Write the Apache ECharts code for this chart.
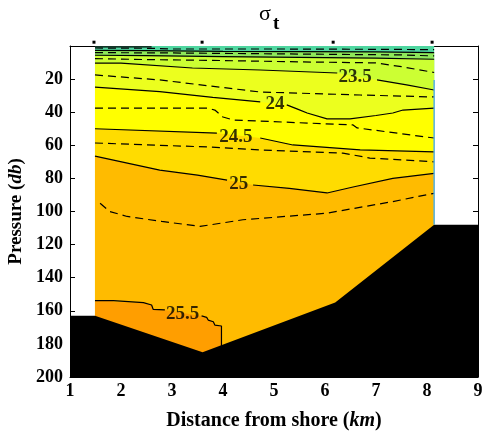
<!DOCTYPE html>
<html><head><meta charset="utf-8">
<script src="https://cdn.jsdelivr.net/npm/echarts@6/dist/echarts.min.js"></script>
<style>html,body{margin:0;padding:0;background:#fff}#c{width:483px;height:435px}</style>
</head><body><div id="c"></div>
<script>
// ---- data (distance km, pressure db) ----
const kmRange = [1, 9];
const pRange = [0, 200];
const stations = [1.47, 3.59, 6.16, 8.1];
const stationP = -2.3;
const sectionEdges = [1.49, 8.14];
const bathymetry = [[1,163],[1.49,163],[3.6,185],[6.2,155],[8.14,108],[9,108]];

const c22    = [[1.49,0.5],[2.6,0.5]];
const c22_25 = [[1.49,1.2],[2.6,1.4],[3,1.8],[5,1.8],[7,2],[8.14,2.2]];
const c22_5  = [[1.49,2.6],[2.5,2.8],[4,3.2],[5.5,3.4],[7,3.6],[8.14,4]];
const c22_75 = [[1.49,4],[3,4.2],[4.5,4.6],[6,5],[7.5,5.4],[8.14,6]];
const c23    = [[1.49,5.6],[2.5,5.8],[4,6.4],[5.5,6.9],[7,7.3],[8.14,8]];
const c23_25 = [[1.49,7.6],[2.5,8.2],[4,8.8],[5.5,9.6],[7,10.2],[7.5,12.5],[8.14,16]];
const c23_5L = [[1.49,10.3],[2,10.3],[3.4,13.3],[4.73,14.5],[6.24,16.3]];
const c23_5R = [[7.02,20.5],[7.6,23.5],[8.14,26.6]];
const c23_75 = [[1.49,17.5],[2.76,20.5],[4.73,27.8],[6.69,29.6],[8.14,30.8]];
const c24L   = [[1.49,24.8],[2.76,27.6],[3.8,31],[4.73,33.8]];
const c24R   = [[5.25,35.6],[5.45,38],[5.65,40.5],[6.04,44],[6.49,44],[7.0,42],[7.33,40.5],[7.53,38.7],[8.14,37.5]];
const c24_25 = [[1.49,37.5],[3.69,37.5],[3.84,38.7],[4.0,42.9],[4.2,44.7],[6.55,47.7],[6.63,49.5],[8.14,55.6]];
const c24_5L = [[1.49,50],[3.88,52.6]];
const c24_5R = [[4.73,55.6],[5.37,59.8],[6.69,62.8],[8.14,64]];
const c24_75 = [[1.49,58.6],[3.69,61],[4.73,62.8],[6.35,64.7],[6.88,67.7],[8.14,70]];
const c25L   = [[1.49,66.5],[2.76,75],[3.5,78],[4.08,81]];
const c25R   = [[4.59,84],[5.3,86],[6.04,88.8],[6.55,85.2],[7.33,80],[8.14,77]];
const c25_25 = [[1.59,95],[1.78,100],[2.12,103],[2.8,106],[3.55,109],[4.39,105],[6.04,101],[7.33,94],[8.14,89]];
const c25_5L = [[1.49,153.9],[1.85,153.9],[1.85,154.7],[2.44,155.1],[2.6,156.5],[2.63,159.1],[2.86,159.5]];
const c25_5R = [[3.58,163.1],[3.68,164],[3.71,165.6],[3.81,166.6],[3.84,168.6],[3.97,169.2],[3.97,181.3]];
const edgeStreak = [[8.14,20.5],[8.14,108]];

const labelText = ['23.5','24','24.5','25','25.5'];
const labelPos  = [[6.59,19],[5.02,35],[4.25,55.3],[4.31,83.7],[3.21,162]];

// ---- build ----
const FONT = '"Liberation Serif", "Times New Roman", serif';
const top0 = [[sectionEdges[0],0],[sectionEdges[1],0]];
const closeDown = line => line.concat([[line[line.length-1][0], pRange[1]], [line[0][0], pRange[1]]]);
const fills = [
  [closeDown(top0), '#4fd6a0'],
  [closeDown(c22_5), '#8ee85a'],
  [closeDown(c23), '#ccff33'],
  [closeDown(c23_5L.concat(c23_5R)), '#ecff1e'],
  [closeDown(c24L.concat(c24R)), '#ffff00'],
  [closeDown(c24_5L.concat(c24_5R)), '#ffdc00'],
  [closeDown(c25L.concat(c25R)), '#ffbb00'],
  [closeDown(c25_5L.concat(c25_5R)), '#ff9e00'],
  [closeDown(bathymetry), '#000000']
];
const solid = [c22, c22_5, c23, c23_5L, c23_5R, c24L, c24R, c24_5L, c24_5R, c25L, c25R, c25_5L, c25_5R];
const dashed = [c22_25, c22_75, c23_25, c23_75, c24_25, c24_75, c25_25];

const series = [];
fills.forEach(([poly, col], k) => series.push({
  type:'custom', z:1 + k * 0.01, silent:true, clip:true,
  data: [poly[0]],
  renderItem: (params, api) => ({
    type:'polygon',
    shape:{points: poly.map(p => api.coord(p))},
    style:{fill: col, stroke: null, lineWidth: 0}
  })
}));
solid.forEach(d => series.push({type:'line', data:d, symbol:'none', z:3, silent:true, color:'#000',
  lineStyle:{color:'#000', width:1.2}}));
dashed.forEach(d => series.push({type:'line', data:d, symbol:'none', z:3, silent:true, color:'#000',
  lineStyle:{color:'#000', width:1.2, type:[8,5]}}));
series.push({type:'line', data:edgeStreak, symbol:'none', z:3, silent:true, color:'#55b0e8',
  lineStyle:{color:'#55b0e8', width:1.5}});
series.push({type:'scatter', z:4, symbolSize:0, silent:true,
  data: labelPos.map((p,i)=>({value:p, name:labelText[i]})),
  label:{show:true, position:'inside', formatter: p=>p.name, color:'#000',
    fontFamily:FONT, fontWeight:'bold', fontSize:19}});
series.push({type:'scatter', z:5, clip:false, symbol:'rect', symbolSize:3, silent:true, color:'#000',
  itemStyle:{color:'#000', opacity:1}, data: stations.map(s=>[s, stationP])});

const axisBase = {
  axisLine:{show:true, onZero:false, lineStyle:{color:'#000', width:1}},
  axisTick:{show:true, inside:true, length:5, lineStyle:{color:'#000'}},
  splitLine:{show:false}
};
const chart = echarts.init(document.getElementById('c'), null, {renderer:'canvas'});
chart.setOption({
  animation:false,
  backgroundColor:'#fff',
  grid:{left:70, right:5, top:46, bottom:58, containLabel:false, outerBoundsMode:'none'},
  graphic:[
    {type:'text', left:259, top:3, style:{text:'σ', font:'22px ' + FONT, fill:'#000'}},
    {type:'text', left:273, top:15, style:{text:'t', font:'bold 19px ' + FONT, fill:'#000'}}
  ],
  xAxis:[
    Object.assign({type:'value', min:kmRange[0], max:kmRange[1], interval:1, position:'bottom',
      axisLabel:{color:'#000', fontFamily:FONT, fontWeight:'bold', fontSize:18, margin:5},
      name:'Distance from shore ({i|km})', nameLocation:'middle', nameGap:34,
      nameTextStyle:{color:'#000', fontFamily:FONT, fontWeight:'bold', fontSize:20,
        rich:{i:{fontStyle:'italic', fontWeight:'bold', fontFamily:FONT, fontSize:20, color:'#000'}}}
    }, axisBase),
    Object.assign({type:'value', min:kmRange[0], max:kmRange[1], interval:1, position:'top',
      axisLabel:{show:false}}, axisBase)
  ],
  yAxis:[
    Object.assign({type:'value', min:pRange[0], max:pRange[1], interval:20, inverse:true, position:'left',
      axisLabel:{color:'#000', fontFamily:FONT, fontWeight:'bold', fontSize:18, margin:7,
        formatter: v => v === 0 ? '' : String(v)},
      name:'Pressure ({i|db})', nameLocation:'middle', nameGap:43, nameRotate:90,
      nameTextStyle:{color:'#000', fontFamily:FONT, fontWeight:'bold', fontSize:19,
        rich:{i:{fontStyle:'italic', fontWeight:'bold', fontFamily:FONT, fontSize:19, color:'#000'}}}
    }, axisBase),
    Object.assign({type:'value', min:pRange[0], max:pRange[1], interval:20, inverse:true, position:'right',
      axisLabel:{show:false}}, axisBase)
  ],
  series: series
});
</script></body></html>
